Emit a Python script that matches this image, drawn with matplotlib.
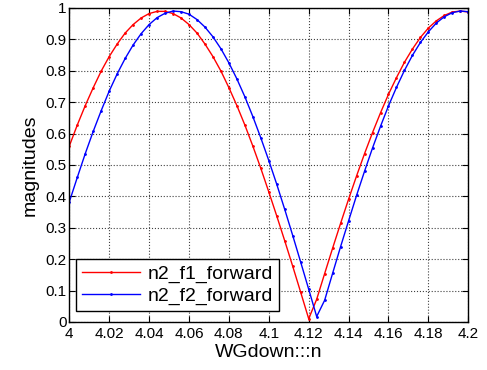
import matplotlib
matplotlib.use("Agg")
import matplotlib.pyplot as plt

x = [4.000, 4.004, 4.008, 4.012, 4.016, 4.020, 4.024, 4.028, 4.032, 4.036,
     4.040, 4.044, 4.048, 4.052, 4.056, 4.060, 4.064, 4.068, 4.072, 4.076,
     4.080, 4.084, 4.088, 4.092, 4.096, 4.100, 4.104, 4.108, 4.112, 4.116,
     4.120, 4.124, 4.128, 4.132, 4.136, 4.140, 4.144, 4.148, 4.152, 4.156,
     4.160, 4.164, 4.168, 4.172, 4.176, 4.180, 4.184, 4.188, 4.192, 4.196,
     4.200]

n2_f1_forward = [0.560, 0.627, 0.689, 0.746, 0.799, 0.845, 0.885, 0.920, 0.947, 0.968,
                 0.982, 0.989, 0.989, 0.982, 0.968, 0.947, 0.920, 0.885, 0.845, 0.799,
                 0.746, 0.689, 0.627, 0.560, 0.489, 0.414, 0.337, 0.258, 0.177, 0.094,
                 0.010, 0.072, 0.154, 0.235, 0.314, 0.391, 0.465, 0.536, 0.603, 0.666,
                 0.725, 0.778, 0.827, 0.869, 0.906, 0.936, 0.959, 0.976, 0.987, 0.990,
                 0.987]

n2_f2_forward = [0.382, 0.460, 0.536, 0.607, 0.673, 0.735, 0.790, 0.839, 0.882, 0.918,
                 0.947, 0.969, 0.983, 0.990, 0.988, 0.980, 0.963, 0.939, 0.908, 0.870,
                 0.825, 0.774, 0.717, 0.654, 0.586, 0.514, 0.438, 0.358, 0.275, 0.190,
                 0.104, 0.017, 0.069, 0.155, 0.240, 0.322, 0.403, 0.480, 0.554, 0.623,
                 0.688, 0.747, 0.801, 0.849, 0.890, 0.924, 0.952, 0.972, 0.985, 0.990,
                 0.988]

x_ticks = [4.0, 4.02, 4.04, 4.06, 4.08, 4.1, 4.12, 4.14, 4.16, 4.18, 4.2]
x_tick_labels = ["4", "4.02", "4.04", "4.06", "4.08", "4.1", "4.12", "4.14", "4.16", "4.18", "4.2"]
y_ticks = [0, 0.1, 0.2, 0.3, 0.4, 0.5, 0.6, 0.7, 0.8, 0.9, 1]
y_tick_labels = ["0", "0.1", "0.2", "0.3", "0.4", "0.5", "0.6", "0.7", "0.8", "0.9", "1"]

plt.rcParams['font.family'] = ['Liberation Sans', 'DejaVu Sans']

fig = plt.figure(figsize=(4.87, 3.70), dpi=100)
ax = fig.add_axes([0.1423, 0.130, 0.8193, 0.8486])

ax.plot(x, n2_f1_forward, color='#ff0000', linewidth=1.0, marker='.', markersize=2,
        label='n2_f1_forward')
ax.plot(x, n2_f2_forward, color='#0000ff', linewidth=1.0, marker='.', markersize=2,
        label='n2_f2_forward')

ax.set_xlim(4.0, 4.2)
ax.set_ylim(0, 1)
ax.set_xticks(x_ticks)
ax.set_xticklabels(x_tick_labels)
ax.set_yticks(y_ticks)
ax.set_yticklabels(y_tick_labels)
ax.tick_params(direction='in', top=True, right=True, labelsize=11, length=4)
ax.tick_params(axis='y', pad=2)
ax.tick_params(axis='x', pad=4)
ax.grid(True, linestyle=':', color='0.25', linewidth=0.8)
for s in ax.spines.values():
    s.set_linewidth(1.0)

ax.set_xlabel('WGdown:::n', fontsize=14, labelpad=2)
ax.set_ylabel('magnitudes', fontsize=14, labelpad=5)

leg = ax.legend(loc='lower left', bbox_to_anchor=(0.016, 0.036), borderaxespad=0,
                fontsize=14, fancybox=False, framealpha=1, edgecolor='black',
                handlelength=3.0, handletextpad=0.4, borderpad=0.3, labelspacing=0.2)
leg.get_frame().set_linewidth(1.0)

fig.savefig('out.png', dpi=100)
